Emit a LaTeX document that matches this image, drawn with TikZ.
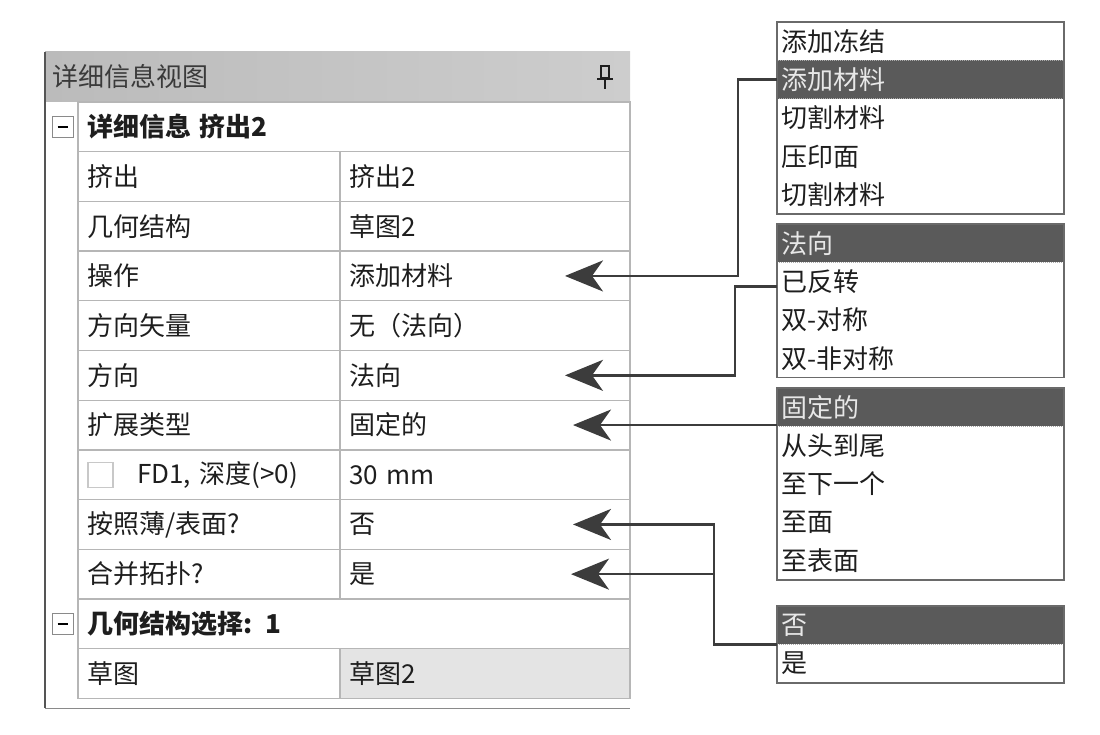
\documentclass[tikz,border=0pt]{standalone}
\usepackage{fontspec}
\setmainfont{Noto Sans CJK SC}
\usepackage{xcolor}
\usepackage{tikz}
\usetikzlibrary{positioning,arrows.meta}

\definecolor{txt}{HTML}{1E1E1E}
\definecolor{tabline}{HTML}{B6B6B6}
\definecolor{headl}{HTML}{BBBBBB}
\definecolor{headr}{HTML}{CDCDCD}
\definecolor{headtxt}{HTML}{3A3A3A}
\definecolor{panelline}{HTML}{555555}
\definecolor{boxline}{HTML}{8A8A8A}
\definecolor{chkline}{HTML}{C8C8C8}
\definecolor{selcell}{HTML}{E4E4E4}
\definecolor{arrowc}{HTML}{3C3C3C}
\definecolor{listline}{HTML}{6A6A6A}
\definecolor{hlfill}{HTML}{5A5A5A}
\definecolor{hldot}{HTML}{ABABAB}
\definecolor{hltext}{HTML}{E8E8E8}

\begin{document}
\begin{tikzpicture}[x=1pt, y=-1pt, node distance=0pt, outer sep=0pt,
    font=\fontsize{26}{30}\selectfont, text=txt,
    keycell/.style={rectangle, draw=tabline, line width=1.3pt, minimum height=49.7pt, text width=244pt, inner xsep=9pt, inner ysep=0pt, align=left},
    valcell/.style={keycell, text width=272pt},
    grpcell/.style={keycell, text width=534pt, font=\fontsize{26}{30}\selectfont\bfseries},
    headbar/.style={rectangle, anchor=north west, minimum height=50pt, text width=571pt, inner xsep=7pt, inner ysep=0pt, align=left, left color=headl, right color=headr, text=headtxt},
    colbox/.style={rectangle, draw=boxline, line width=1pt, minimum size=21pt, inner sep=0pt},
    chkbox/.style={rectangle, draw=chkline, line width=1.2pt, minimum size=25pt, inner sep=0pt},
    pinline/.style={draw=txt, line width=1.6pt},
    listitem/.style={rectangle, minimum height=38.4pt, text width=279pt, inner xsep=4pt, inner ysep=0pt, align=left},
    listsel/.style={listitem, fill=hlfill, text=hltext, draw=hldot, densely dotted, line width=1pt},
    listframe/.style={draw=listline, line width=1.6pt},
    conn/.style={draw=arrowc, line width=2.6pt, -{Stealth[length=38pt, width=31pt, inset=11pt]}}]

    \useasboundingbox (0,0) rectangle (1100,735);

    % detail panel
    \node[headbar] (head) at (45,52) {详细信息视图};
    \coordinate (pin) at ([xshift=-25pt]head.east);
    \draw[pinline] (pin) ++(-4,-11) rectangle ++(8,12);
    \draw[pinline] (pin) ++(-8,2) -- ++(16,0);
    \draw[pinline] (pin) ++(0,2) -- ++(0,10);

    \node[grpcell, anchor=north west] (grp1) at (78,102) {详细信息 挤出2};
    \node[keycell, below=of grp1.south west, anchor=north west] (k2) {挤出};
    \node[valcell, right=of k2] (v2) {挤出2};
    \node[keycell, below=of k2] (k3) {几何结构};
    \node[valcell, right=of k3] (v3) {草图2};
    \node[keycell, below=of k3] (k4) {操作};
    \node[valcell, right=of k4] (v4) {添加材料};
    \node[keycell, below=of k4] (k5) {方向矢量};
    \node[valcell, right=of k5] (v5) {无（法向）};
    \node[keycell, below=of k5] (k6) {方向};
    \node[valcell, right=of k6] (v6) {法向};
    \node[keycell, below=of k6] (k7) {扩展类型};
    \node[valcell, right=of k7] (v7) {固定的};
    \node[keycell, below=of k7] (k8) {\hspace*{50pt}FD1, 深度(>0)};
    \node[valcell, right=of k8] (v8) {30 mm};
    \node[keycell, below=of k8] (k9) {按照薄/表面?};
    \node[valcell, right=of k9] (v9) {否};
    \node[keycell, below=of k9] (k10) {合并拓扑?};
    \node[valcell, right=of k10] (v10) {是};
    \node[grpcell, below=of k10.south west, anchor=north west] (grp2) {几何结构选择: 1};
    \node[keycell, below=of grp2.south west, anchor=north west] (k12) {草图};
    \node[valcell, fill=selcell, right=of k12] (v12) {草图2};

    \node[colbox, left=5pt of grp1] (col1) {};
    \draw[line width=1.6pt] ([xshift=-5pt]col1.center) -- ([xshift=5pt]col1.center);
    \node[colbox, left=5pt of grp2] (col2) {};
    \draw[line width=1.6pt] ([xshift=-5pt]col2.center) -- ([xshift=5pt]col2.center);
    \node[chkbox, right=10pt of k8.west] (chk) {};

    \coordinate (bot) at ([yshift=-10pt]k12.south west);
    \draw[draw=panelline, line width=1.8pt] (head.north west) -- (head.north west |- bot);
    \draw[draw=boxline, line width=1.8pt] (head.north west |- bot) -- (bot -| v12.east);

    % drop-down lists
    \node[listitem, anchor=north west] (l1a) at (777,22) {添加冻结};
    \node[listsel, below=of l1a] (l1b) {添加材料};
    \node[listitem, below=of l1b] (l1c) {切割材料};
    \node[listitem, below=of l1c] (l1d) {压印面};
    \node[listitem, below=of l1d] (l1e) {切割材料};
    \draw[listframe] (l1a.north west) rectangle (l1e.south east);

    \node[listsel, anchor=north west] (l2a) at (777,224) {法向};
    \node[listitem, below=of l2a] (l2b) {已反转};
    \node[listitem, below=of l2b] (l2c) {双-对称};
    \node[listitem, below=of l2c] (l2d) {双-非对称};
    \draw[listframe] (l2a.north west) rectangle (l2d.south east);

    \node[listsel, anchor=north west] (l3a) at (777,388) {固定的};
    \node[listitem, below=of l3a] (l3b) {从头到尾};
    \node[listitem, below=of l3b] (l3c) {至下一个};
    \node[listitem, below=of l3c] (l3d) {至面};
    \node[listitem, below=of l3d] (l3e) {至表面};
    \draw[listframe] (l3a.north west) rectangle (l3e.south east);

    \node[listsel, anchor=north west] (l4a) at (777,606) {否};
    \node[listitem, below=of l4a] (l4b) {是};
    \draw[listframe] (l4a.north west) rectangle (l4b.south east);

    % connectors
    \coordinate (t4) at ([xshift=-65pt]v4.east);
    \coordinate (t6) at ([xshift=-65pt]v6.east);
    \coordinate (t7) at ([xshift=-57pt]v7.east);
    \coordinate (t9) at ([xshift=-57pt]v9.east);
    \coordinate (t10) at ([xshift=-59pt]v10.east);
    \coordinate (jn) at ([xshift=-63pt]l4a.south west);
    \draw[conn] (l1b.west) -- ++(-39,0) |- (t4);
    \draw[conn] ([yshift=-5pt]l2b.west) -- ++(-42,0) |- (t6);
    \draw[conn] (t7 -| l3a.west) -- (t7);
    \draw[conn] (l4a.south west) -- (jn) |- (t9);
    \draw[conn] (jn |- t10) -- (t10);
\end{tikzpicture}
\end{document}
